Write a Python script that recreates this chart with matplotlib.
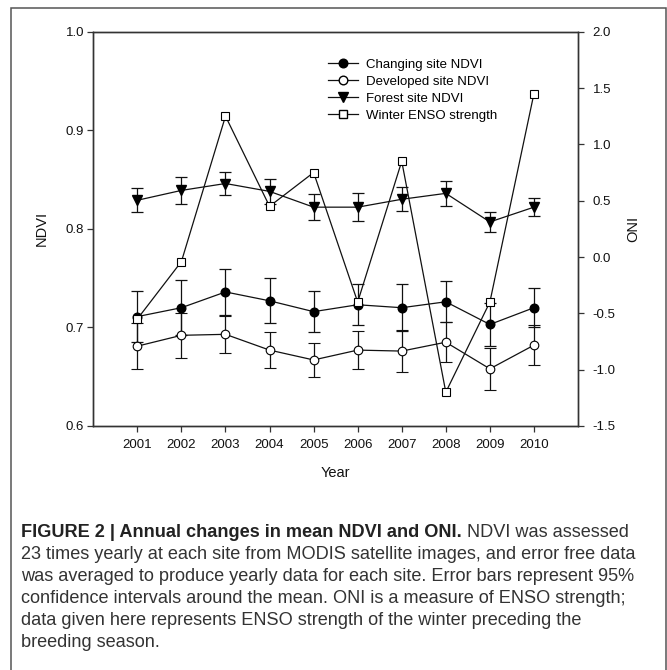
import matplotlib
matplotlib.use("Agg")
import matplotlib.pyplot as plt
from matplotlib.lines import Line2D
from matplotlib.patches import Rectangle
import numpy as np

years = [2001, 2002, 2003, 2004, 2005, 2006, 2007, 2008, 2009, 2010]
changing = [0.711, 0.720, 0.736, 0.727, 0.716, 0.723, 0.720, 0.726, 0.703, 0.720]
changing_err = [0.026, 0.028, 0.023, 0.023, 0.021, 0.021, 0.024, 0.021, 0.022, 0.020]
developed = [0.681, 0.692, 0.693, 0.677, 0.667, 0.677, 0.676, 0.685, 0.658, 0.682]
developed_err = [0.023, 0.023, 0.019, 0.018, 0.017, 0.019, 0.021, 0.020, 0.021, 0.020]
forest = [0.829, 0.839, 0.846, 0.838, 0.822, 0.822, 0.830, 0.836, 0.807, 0.822]
forest_err = [0.012, 0.014, 0.012, 0.013, 0.013, 0.014, 0.012, 0.013, 0.010, 0.009]
oni = [-0.55, -0.04, 1.25, 0.45, 0.75, -0.40, 0.85, -1.20, -0.40, 1.45]

labels = ["Changing site NDVI", "Developed site NDVI", "Forest site NDVI", "Winter ENSO strength"]
caption_bold = "FIGURE 2 | Annual changes in mean NDVI and ONI."
caption_lines = [
    " NDVI was assessed",
    "23 times yearly at each site from MODIS satellite images, and error free data",
    "was averaged to produce yearly data for each site. Error bars represent 95%",
    "confidence intervals around the mean. ONI is a measure of ENSO strength;",
    "data given here represents ENSO strength of the winter preceding the",
    "breeding season.",
]

plt.rcParams['font.family'] = ['Liberation Sans', 'DejaVu Sans']
W, H = 667, 670
fig = plt.figure(figsize=(W / 100, H / 100), dpi=100)

# outer box
fig.patches.append(Rectangle((11 / W, -0.01), (666 - 11) / W, (H - 8) / H + 0.01,
                             transform=fig.transFigure, fill=False,
                             edgecolor='#555555', linewidth=1.1))

ax = fig.add_axes([93.3 / W, (H - 426) / H, (578 - 93.3) / W, (426 - 31.7) / H])
ax2 = ax.twinx()

lc = '#111111'
lw = 0.9
ekw = dict(elinewidth=0.9, capsize=4.2, capthick=0.9, ecolor=lc)

ax.errorbar(years, changing, yerr=changing_err, color=lc, lw=lw, marker='o', ms=6.2,
            mfc='black', mec='black', **ekw, zorder=3)
ax.errorbar(years, developed, yerr=developed_err, color=lc, lw=lw, marker='o', ms=6.2,
            mfc='white', mec='black', mew=0.8, **ekw, zorder=3)
ax.errorbar(years, forest, yerr=forest_err, color=lc, lw=lw, marker='v', ms=6.5,
            mfc='black', mec='black', **ekw, zorder=3)
ax2.plot(years, oni, color=lc, lw=lw, marker='s', ms=5.3, mfc='white', mec='black', mew=0.8,
         zorder=3)

ax.set_xlim(2000, 2011)
ax.set_ylim(0.6, 1.0)
ax2.set_ylim(-1.5, 2.0)
ax.set_xticks(years)
ax.set_xticklabels([str(y) for y in years])
ax.set_yticks([0.6, 0.7, 0.8, 0.9, 1.0])
ax.set_yticklabels(["0.6", "0.7", "0.8", "0.9", "1.0"])
ax2.set_yticks([-1.5, -1.0, -0.5, 0.0, 0.5, 1.0, 1.5, 2.0])
ax2.set_yticklabels(["-1.5", "-1.0", "-0.5", "0.0", "0.5", "1.0", "1.5", "2.0"])

for a in (ax, ax2):
    for s in a.spines.values():
        s.set_color('#333333')
        s.set_linewidth(1.0)
ax.tick_params(axis='both', direction='out', length=4.5, width=0.9, color='#333333',
               labelsize=9.5, labelcolor='#111111')
ax.tick_params(axis='y', pad=2)
ax.tick_params(axis='x', pad=5)
ax2.tick_params(axis='y', direction='out', length=4.5, width=0.9, color='#333333',
                labelsize=9.5, labelcolor='#111111', pad=6)

ax.set_xlabel("Year", fontsize=10.5, labelpad=11, color='#111111')
ax.set_ylabel("NDVI", fontsize=10.5, labelpad=12, color='#111111')
ax2.set_ylabel("ONI", fontsize=10.5, rotation=90, labelpad=8, color='#111111')

handles = [
    Line2D([], [], color=lc, lw=lw, marker='o', ms=6.2, mfc='black', mec='black'),
    Line2D([], [], color=lc, lw=lw, marker='o', ms=6.2, mfc='white', mec='black'),
    Line2D([], [], color=lc, lw=lw, marker='v', ms=6.5, mfc='black', mec='black'),
    Line2D([], [], color=lc, lw=lw, marker='s', ms=5.3, mfc='white', mec='black'),
]
ax2.legend(handles, labels, loc='upper left', bbox_to_anchor=(0.484, 0.932), frameon=False,
           fontsize=9.5, borderpad=0, borderaxespad=0, handlelength=2.3, handletextpad=0.6,
           labelspacing=0.36)

# caption
cap_family = ['Liberation Sans', 'DejaVu Sans']
cap_size = 13.1
base0 = H - 537
t0 = fig.text(21 / W, base0 / H, caption_bold, fontsize=cap_size, fontweight='bold',
              family=cap_family, color='#222222', va='baseline', ha='left')
fig.canvas.draw()
r = fig.canvas.get_renderer()
bb = t0.get_window_extent(r)
fig.text(bb.x1 / W, base0 / H, caption_lines[0], fontsize=cap_size, family=cap_family,
         color='#333333', va='baseline', ha='left')
for i, line in enumerate(caption_lines[1:]):
    fig.text(21 / W, (base0 - 22 * (i + 1)) / H, line, fontsize=cap_size, family=cap_family,
             color='#333333', va='baseline', ha='left')

fig.savefig("out.png", dpi=100)
